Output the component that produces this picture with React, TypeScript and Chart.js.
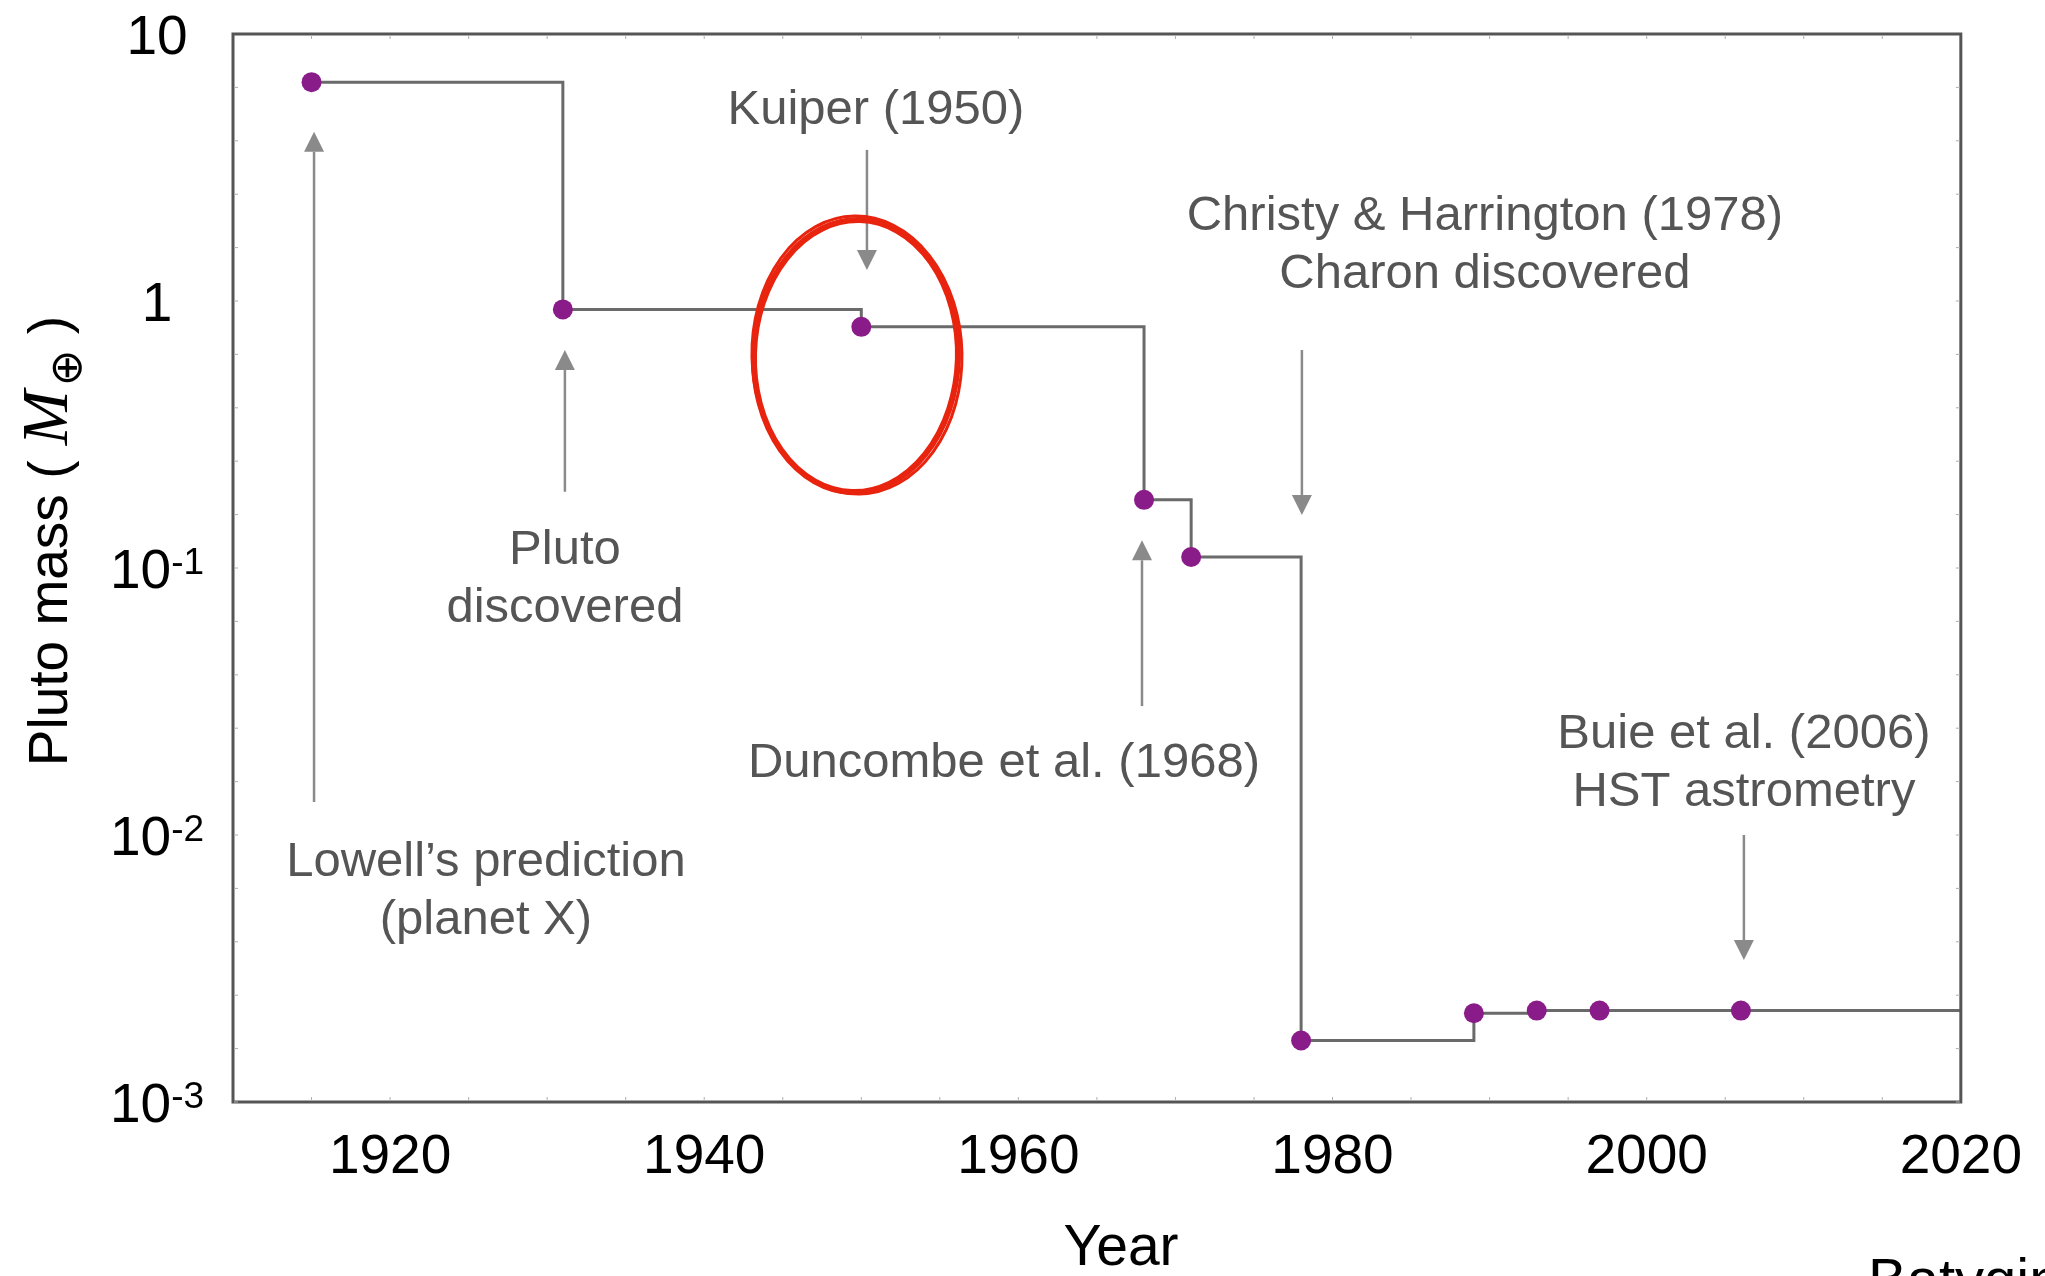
import React, { useEffect, useRef } from 'react';
import { Chart, registerables } from 'chart.js';
Chart.register(...registerables);

// Pluto mass estimates (Earth masses) by year
const years = [1915, 1931, 1950, 1968, 1971, 1978, 1989, 1993, 1997, 2006];
const masses = [6.6, 0.93, 0.8, 0.18, 0.11, 0.0017, 0.00215, 0.0022, 0.0022, 0.0022];
const endYear = 2020;
const xTickYears = [1920, 1940, 1960, 1980, 2000, 2020];
const yTickExponents = [1, 0, -1, -2, -3];

// Annotations (data coordinates)
const noteTexts = [
  ['Lowell\u2019s prediction', '(planet X)'],
  ['Pluto', 'discovered'],
  ['Kuiper (1950)'],
  ['Christy & Harrington (1978)', 'Charon discovered'],
  ['Duncombe et al. (1968)'],
  ['Buie et al. (2006)', 'HST astrometry'],
];
const noteX = [1926.1, 1931.13, 1950.93, 1989.7, 1959.08, 2006.19];
const noteY = [0.0079, 0.1167, 5.19, 2.08, 0.01845, 0.02388];
const arrowX = [1915.16, 1931.13, 1950.36, 1978.05, 1967.87, 2006.19];
const arrowFrom = [0.0133, 0.193, 3.68, 0.655, 0.0304, 0.01];
const arrowTo = [4.3, 0.655, 1.306, 0.158, 0.127, 0.0034];
const circleYear = 1949.66;
const circleMass = 0.622;

const SANS = '"Liberation Sans", Arial, Helvetica, sans-serif';

const overlay = {
  id: 'overlay',
  afterDraw(chart: any) {
    const { ctx, chartArea: ca, scales } = chart;
    const x = scales.x;
    const y = scales.y;
    ctx.save();

    // frame
    ctx.strokeStyle = '#555';
    ctx.lineWidth = 3;
    ctx.strokeRect(ca.left, ca.top, ca.right - ca.left, ca.bottom - ca.top);

    // small inner ticks (faint)
    ctx.strokeStyle = '#b0b0b0';
    ctx.lineWidth = 1;
    ctx.beginPath();
    for (let yr = 1915; yr < 2020; yr += 5) {
      const px = x.getPixelForValue(yr);
      ctx.moveTo(px, ca.bottom - 1); ctx.lineTo(px, ca.bottom - 5);
      ctx.moveTo(px, ca.top + 1); ctx.lineTo(px, ca.top + 5);
    }
    for (let e = -3; e < 1; e += 0.2) {
      const py = y.getPixelForValue(Math.pow(10, e));
      ctx.moveTo(ca.left + 1, py); ctx.lineTo(ca.left + 5, py);
      ctx.moveTo(ca.right - 1, py); ctx.lineTo(ca.right - 5, py);
    }
    ctx.stroke();

    // y tick labels with superscripts
    ctx.fillStyle = '#000';
    ctx.textBaseline = 'alphabetic';
    ctx.textAlign = 'left';
    const cx = 157;
    yTickExponents.forEach((e) => {
      const py = y.getPixelForValue(Math.pow(10, e));
      ctx.font = `55px ${SANS}`;
      if (e === 1 || e === 0) {
        const t = e === 1 ? '10' : '1';
        const w = ctx.measureText(t).width;
        ctx.fillText(t, cx - w / 2, py + 20);
      } else {
        const base = '10';
        const sup = `-${-e}`;
        const wb = ctx.measureText(base).width;
        ctx.font = `37px ${SANS}`;
        const ws = ctx.measureText(sup).width;
        const start = cx - (wb + ws) / 2;
        ctx.font = `55px ${SANS}`;
        ctx.fillText(base, start, py + 20);
        ctx.font = `37px ${SANS}`;
        ctx.fillText(sup, start + wb, py + 6);
      }
    });

    // y-axis title
    ctx.save();
    ctx.translate(67, 541);
    ctx.rotate(-Math.PI / 2);
    const segs = [
      { t: 'Pluto mass ( ', f: `55px ${SANS}`, dy: 0, gap: 0 },
      { t: 'M', f: 'italic 66px "Liberation Serif", "DejaVu Serif", serif', dy: 0, gap: 4 },
      { t: '\u2295', f: '44px "DejaVu Sans", sans-serif', dy: 14, gap: 0 },
      { t: ' )', f: `55px ${SANS}`, dy: 0, gap: 0 },
    ];
    let W = 0;
    segs.forEach((s) => { ctx.font = s.f; W += ctx.measureText(s.t).width + s.gap; });
    let pos = -W / 2;
    ctx.fillStyle = '#000';
    segs.forEach((s) => {
      ctx.font = s.f;
      ctx.fillText(s.t, pos, s.dy);
      pos += ctx.measureText(s.t).width + s.gap;
    });
    ctx.restore();

    // arrows
    ctx.strokeStyle = '#8a8a8a';
    ctx.fillStyle = '#8a8a8a';
    ctx.lineWidth = 2.5;
    arrowX.forEach((ax, i) => {
      const px = x.getPixelForValue(ax);
      const y1 = y.getPixelForValue(arrowFrom[i]);
      const y2 = y.getPixelForValue(arrowTo[i]);
      const dir = y2 > y1 ? 1 : -1;
      const head = 20;
      ctx.beginPath();
      ctx.moveTo(px, y1);
      ctx.lineTo(px, y2 - dir * head);
      ctx.stroke();
      ctx.beginPath();
      ctx.moveTo(px, y2);
      ctx.lineTo(px - 10, y2 - dir * head);
      ctx.lineTo(px + 10, y2 - dir * head);
      ctx.closePath();
      ctx.fill();
    });

    // annotation texts
    ctx.fillStyle = '#555';
    ctx.font = `49px ${SANS}`;
    ctx.textAlign = 'center';
    ctx.textBaseline = 'middle';
    noteTexts.forEach((lines, i) => {
      const px = x.getPixelForValue(noteX[i]);
      const py = y.getPixelForValue(noteY[i]);
      lines.forEach((ln, j) => ctx.fillText(ln, px, py + j * 58));
    });

    // red hand-drawn ellipse
    const ex = x.getPixelForValue(circleYear);
    const ey = y.getPixelForValue(circleMass);
    ctx.strokeStyle = '#e8240f';
    ctx.lineWidth = 6;
    ctx.beginPath();
    ctx.ellipse(ex, ey, 102, 136, 0.03, 0, Math.PI * 2);
    ctx.stroke();
    ctx.lineWidth = 3;
    ctx.beginPath();
    ctx.ellipse(ex + 1, ey - 1, 105, 139, -0.02, 0, Math.PI * 2);
    ctx.stroke();

    // x-axis title and cropped credit
    ctx.fillStyle = '#000';
    ctx.font = `57px ${SANS}`;
    ctx.textAlign = 'center';
    ctx.textBaseline = 'middle';
    ctx.fillText('Year', 1121, 1249);
    ctx.textAlign = 'left';
    ctx.textBaseline = 'alphabetic';
    ctx.font = `58px ${SANS}`;
    ctx.fillText('Batygin', 1868, 1299);

    ctx.restore();
  },
};

export default function App() {
  const ref = useRef<HTMLCanvasElement | null>(null);
  useEffect(() => {
    if (!ref.current) return;
    const pts = years.map((yr, i) => ({ x: yr, y: masses[i] }));
    const chart = new Chart(ref.current, {
      type: 'scatter',
      data: {
        datasets: [
          {
            type: 'scatter',
            data: pts,
            pointRadius: 10,
            pointHoverRadius: 10,
            backgroundColor: '#8a1c8a',
            borderWidth: 0,
            order: 0,
          } as any,
          {
            type: 'line',
            data: [...pts, { x: endYear, y: masses[masses.length - 1] }],
            stepped: 'before',
            borderColor: '#6a6a6a',
            borderWidth: 3,
            pointRadius: 0,
            fill: false,
            order: 1,
          } as any,
        ],
      },
      options: {
        responsive: false,
        devicePixelRatio: 1,
        animation: false,
        layout: { padding: { top: 34, right: 84, left: 0, bottom: 0 } },
        plugins: { legend: { display: false }, tooltip: { enabled: false } },
        scales: {
          x: {
            type: 'linear',
            min: 1910,
            max: 2020,
            afterBuildTicks: (s: any) => { s.ticks = xTickYears.map((v) => ({ value: v })); },
            afterFit: (s: any) => { s.height = 174; },
            grid: { display: false, drawTicks: false },
            border: { display: false },
            ticks: {
              padding: 23,
              color: '#000',
              maxRotation: 0,
              autoSkip: false,
              font: { family: SANS, size: 55 },
              callback: (v: any) => String(v),
            },
          },
          y: {
            type: 'logarithmic',
            min: 0.001,
            max: 10,
            afterFit: (s: any) => { s.width = 233; },
            grid: { display: false },
            border: { display: false },
            ticks: { display: false },
          },
        },
      } as any,
      plugins: [overlay],
    });
    return () => chart.destroy();
  }, []);
  return (
    <div style={{ position: 'fixed', left: 0, top: 0, width: 2045, height: 1276, background: '#fff' }}>
      <canvas ref={ref} width={2045} height={1276} style={{ display: 'block' }} />
    </div>
  );
}
